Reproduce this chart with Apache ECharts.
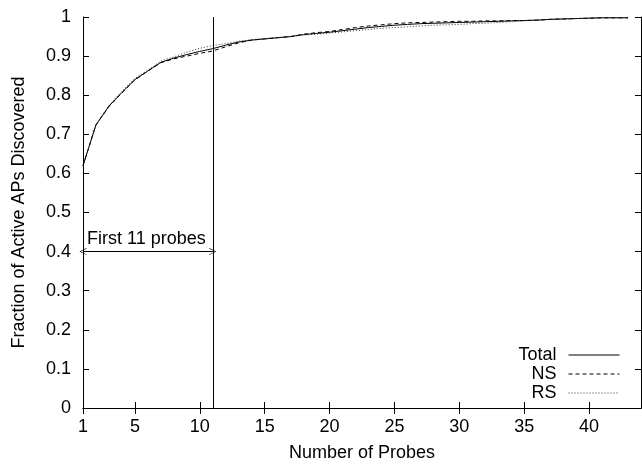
<!DOCTYPE html>
<html><head><meta charset="utf-8">
<script src="https://cdn.jsdelivr.net/npm/echarts@6/dist/echarts.min.js"></script>
<style>html,body{margin:0;padding:0;background:#fff}#c{width:642px;height:464px}</style>
</head><body><div id="c"></div>
<script>
var probes = [1,2,3,4,5,6,7,8,9,10,11,12,13,14,15,16,17,18,19,20,21,22,23,24,25,26,27,28,29,30,31,32,33,34,35,36,37,38,39,40,41,42,43];
var total = [0.620,0.724,0.772,0.807,0.840,0.862,0.884,0.895,0.904,0.912,0.919,0.928,0.936,0.941,0.944,0.947,0.950,0.955,0.958,0.961,0.965,0.969,0.973,0.976,0.979,0.981,0.983,0.984,0.985,0.986,0.987,0.988,0.989,0.990,0.991,0.992,0.994,0.995,0.996,0.997,0.998,0.998,0.998];
var ns    = [0.620,0.724,0.771,0.806,0.839,0.862,0.883,0.893,0.900,0.907,0.913,0.924,0.934,0.941,0.944,0.947,0.950,0.956,0.960,0.963,0.968,0.973,0.977,0.980,0.983,0.985,0.986,0.987,0.988,0.989,0.989,0.990,0.990,0.991,0.991,0.992,0.994,0.995,0.996,0.997,0.998,0.998,0.998];
var rs    = [0.620,0.725,0.774,0.810,0.843,0.864,0.887,0.898,0.910,0.920,0.927,0.932,0.938,0.942,0.945,0.947,0.950,0.954,0.956,0.959,0.962,0.965,0.968,0.971,0.973,0.975,0.977,0.979,0.980,0.981,0.983,0.984,0.986,0.988,0.990,0.992,0.994,0.995,0.996,0.997,0.998,0.998,0.998];
var xTicks = [1,5,10,15,20,25,30,35,40];
var yTicks = [0,0.1,0.2,0.3,0.4,0.5,0.6,0.7,0.8,0.9,1];
var seriesNames = ['Total','NS','RS'];
var markX = 11;
var arrowY = 0.4;
var annotation = 'First 11 probes';

function pairs(ys){ return probes.map(function(x,i){ return [x, ys[i]]; }); }
var font = 'Liberation Sans, Arial, sans-serif';
var FS = 18;
var chart = echarts.init(document.getElementById('c'), null, {renderer:'canvas'});
var axisLine = {show:true, lineStyle:{color:'#000', width:1}};
var tick = {show:true, inside:true, length:6, lineStyle:{color:'#000'}};
var chev = 'path://M0,10 L5,0 L10,10 L9,10 L5,2 L1,10 Z';
var lineBase = {type:'line', showSymbol:false, symbol:'none', animation:false, silent:true};
chart.setOption({
  animation:false,
  backgroundColor:'#fff',
  grid:{left:83, top:17, right:1, bottom:56, containLabel:false, outerBoundsMode:'none'},
  legend:{
    orient:'vertical', right:17, bottom:57, align:'right',
    itemWidth:51, itemHeight:14, itemGap:1,
    itemStyle:{color:'rgba(0,0,0,0)', borderWidth:0, opacity:0},
    lineStyle:{width:1},
    textStyle:{fontFamily:font, fontSize:FS, color:'#000', padding:[0,7,0,0]},
    data:seriesNames
  },
  xAxis:[{
    type:'value', min:1, max:44, position:'bottom',
    name:'Number of Probes', nameLocation:'middle', nameGap:36,
    nameTextStyle:{fontFamily:font, fontSize:FS, color:'#000'},
    axisLine:axisLine,
    axisTick:Object.assign({customValues:xTicks}, tick),
    axisLabel:{customValues:xTicks, fontFamily:font, fontSize:FS, color:'#000', margin:10},
    splitLine:{show:false}
  },{
    type:'value', min:1, max:44, position:'top',
    axisLine:axisLine,
    axisTick:Object.assign({customValues:xTicks}, tick),
    axisLabel:{show:false}, splitLine:{show:false}
  }],
  yAxis:[{
    type:'value', min:0, max:1, interval:0.1, position:'left',
    name:'Fraction of Active APs Discovered', nameLocation:'middle', nameGap:55,
    nameTextStyle:{fontFamily:font, fontSize:FS, color:'#000'},
    axisLine:axisLine, axisTick:tick,
    axisLabel:{fontFamily:font, fontSize:FS, color:'#000', margin:12,
      formatter:function(v){ return String(Math.round(v*10)/10); }},
    splitLine:{show:false}
  },{
    type:'value', min:0, max:1, interval:0.1, position:'right',
    axisLine:axisLine, axisTick:tick, axisLabel:{show:false}, splitLine:{show:false}
  }],
  series:[
    Object.assign({}, lineBase, {name:seriesNames[0], data:pairs(total),
      lineStyle:{color:'#000', width:1, type:'solid'}, itemStyle:{color:'#000'},
      markLine:{silent:true, animation:false,
        data:[
          [{coord:[markX,0], symbol:'none'},{coord:[markX,1], symbol:'none'}],
          [{coord:[1,arrowY]},{coord:[markX,arrowY]}]
        ],
        symbol:[chev, chev], symbolSize:[7,7],
        lineStyle:{color:'#000', width:1, type:'solid'},
        label:{show:false}
      }}),
    Object.assign({}, lineBase, {name:seriesNames[1], data:pairs(ns),
      lineStyle:{color:'#000', width:1, type:[4,3]}, itemStyle:{color:'#000'}}),
    Object.assign({}, lineBase, {name:seriesNames[2], data:pairs(rs),
      lineStyle:{color:'#333', width:1, type:[1,2]}, itemStyle:{color:'#333'}})
  ]
});
var p = chart.convertToPixel({xAxisIndex:0, yAxisIndex:0}, [1, arrowY]);
chart.setOption({graphic:[{type:'text', left:p[0]+4, top:p[1]-22,
  style:{text:annotation, font:FS + 'px ' + font, fill:'#000'}, silent:true}]});
</script></body></html>
